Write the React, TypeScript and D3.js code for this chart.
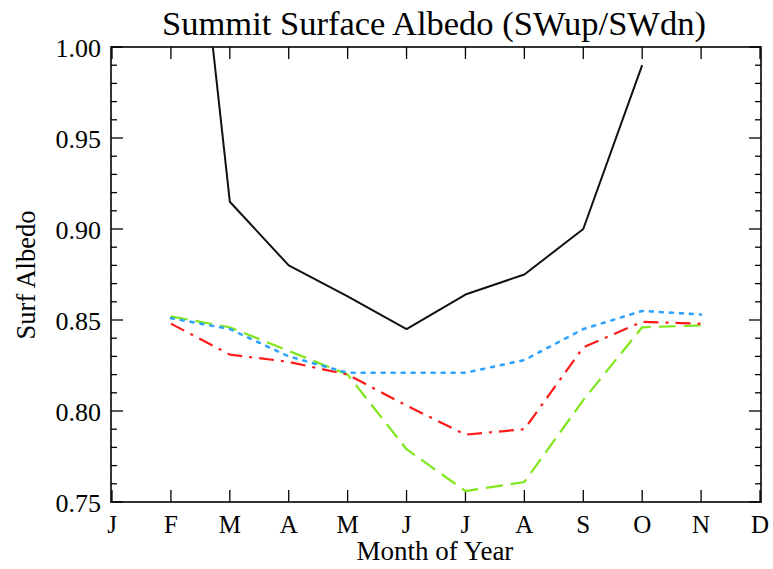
import React, { useEffect, useRef } from 'react'
import * as d3 from 'd3'

const months = ['J', 'F', 'M', 'A', 'M', 'J', 'J', 'A', 'S', 'O', 'N', 'D']
const yTicks = [0.75, 0.80, 0.85, 0.90, 0.95, 1.00]

// month index (1 = Jan)
const blackMonths = [2, 3, 4, 5, 6, 7, 8, 9, 10]
const blackVals = [1.21, 0.915, 0.880, 0.863, 0.845, 0.864, 0.875, 0.900, 0.990]

const seriesMonths = [2, 3, 4, 5, 6, 7, 8, 9, 10, 11]
const blueVals = [0.851, 0.845, 0.830, 0.821, 0.821, 0.821, 0.828, 0.845, 0.855, 0.853]
const redVals = [0.848, 0.831, 0.827, 0.820, 0.803, 0.787, 0.790, 0.835, 0.849, 0.848]
const greenVals = [0.852, 0.846, 0.833, 0.820, 0.779, 0.756, 0.761, 0.806, 0.846, 0.847]

const App = () => {
  const ref = useRef(null)

  useEffect(() => {
    draw()
  }, [])

  const draw = () => {
    const W = 773
    const H = 569
    const margin = { top: 47, right: 12, bottom: 67, left: 111 }
    const width = W - margin.left - margin.right
    const height = H - margin.top - margin.bottom
    const font = '"Liberation Serif", "Times New Roman", serif'

    d3.select(ref.current).selectAll('*').remove()
    const svg = d3.select(ref.current).append('svg')
      .attr('width', W)
      .attr('height', H)
      .style('display', 'block')
      .style('background', '#fff')

    const g = svg.append('g')
      .attr('transform', `translate(${margin.left},${margin.top})`)

    const x = d3.scaleLinear().domain([1, 12]).range([1, width - 1])
    const y = d3.scaleLinear().domain([0.75, 1.0]).range([height, 0])

    svg.append('defs').append('clipPath').attr('id', 'plotclip')
      .append('rect').attr('width', width).attr('height', height)

    // frame
    g.append('rect')
      .attr('width', width).attr('height', height)
      .attr('fill', 'none').attr('stroke', '#000').attr('stroke-width', 1.6)

    // y ticks left & right
    const minorY = d3.range(0, 26).map(i => 0.75 + i * 0.01)
    minorY.forEach((v, i) => {
      const len = i % 5 === 0 ? 12 : 6
      g.append('line').attr('x1', 0).attr('x2', len).attr('y1', y(v)).attr('y2', y(v))
        .attr('stroke', '#000').attr('stroke-width', 1.3)
      g.append('line').attr('x1', width).attr('x2', width - len).attr('y1', y(v)).attr('y2', y(v))
        .attr('stroke', '#000').attr('stroke-width', 1.3)
    })

    // x ticks bottom & top
    months.forEach((m, i) => {
      const xx = x(i + 1)
      g.append('line').attr('x1', xx).attr('x2', xx).attr('y1', height).attr('y2', height - 12)
        .attr('stroke', '#000').attr('stroke-width', 1.3)
      g.append('line').attr('x1', xx).attr('x2', xx).attr('y1', 0).attr('y2', 12)
        .attr('stroke', '#000').attr('stroke-width', 1.3)
      g.append('text')
        .attr('x', xx).attr('y', height + 31)
        .attr('text-anchor', 'middle')
        .attr('font-family', font).attr('font-size', 25)
        .text(m)
    })

    yTicks.forEach(v => {
      g.append('text')
        .attr('x', -10).attr('y', y(v) + 10)
        .attr('text-anchor', 'end')
        .attr('font-family', font).attr('font-size', 26)
        .text(v.toFixed(2))
    })

    const plot = g.append('g').attr('clip-path', 'url(#plotclip)')

    const addLine = (ms: number[], vals: number[], color: string, dash: string | null, sw: number) => {
      const pts = ms.map((m, i) => [x(m), y(vals[i])] as [number, number])
      const p = plot.append('path')
        .attr('d', d3.line()(pts))
        .attr('fill', 'none')
        .attr('stroke', color)
        .attr('stroke-width', sw)
        .attr('stroke-linejoin', 'round')
      if (dash) p.attr('stroke-dasharray', dash)
      return p
    }

    addLine(seriesMonths, greenVals, '#7fe61a', '17,8', 2.2)
    addLine(seriesMonths, redVals, '#ff1a1a', '15,7,3,7', 2.2)
    addLine(seriesMonths, blueVals, '#2fa3ff', '3,7', 2.6).attr('stroke-linecap', 'round')
    addLine(blackMonths, blackVals, '#111', null, 2)

    // titles
    svg.append('text')
      .attr('x', 434).attr('y', 35)
      .attr('text-anchor', 'middle')
      .attr('font-family', font).attr('font-size', 34.5)
      .text('Summit Surface Albedo (SWup/SWdn)')

    svg.append('text')
      .attr('x', 435).attr('y', 560)
      .attr('text-anchor', 'middle')
      .attr('font-family', font).attr('font-size', 27)
      .text('Month of Year')

    svg.append('text')
      .attr('transform', `translate(35,275) rotate(-90)`)
      .attr('text-anchor', 'middle')
      .attr('font-family', font).attr('font-size', 26.5)
      .text('Surf Albedo')
  }

  return <div ref={ref} style={{ position: 'absolute', left: 0, top: 0 }}></div>
}

export default App
